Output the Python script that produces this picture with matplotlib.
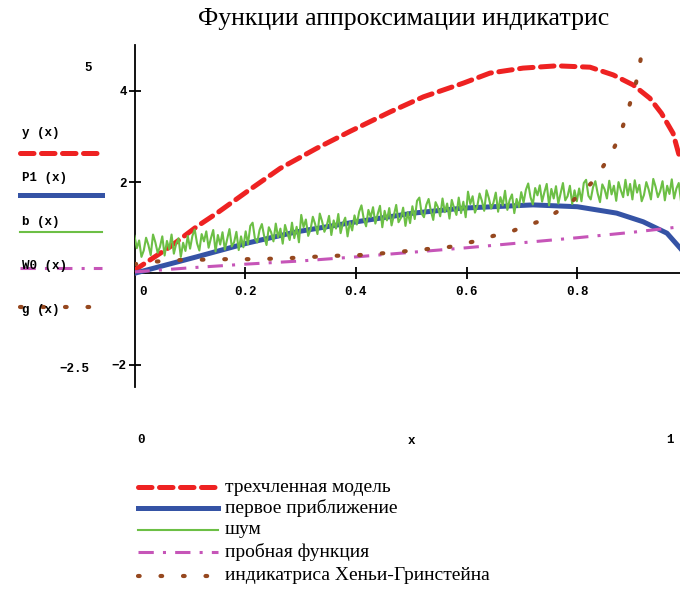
import numpy as np
import matplotlib
matplotlib.use('Agg')
import matplotlib.pyplot as plt
from matplotlib.lines import Line2D

# ---- data ----
x_y = [0.0, 0.004, 0.064, 0.112, 0.149, 0.203, 0.263, 0.329, 0.389, 0.462, 0.522,
       0.594, 0.642, 0.702, 0.763, 0.823, 0.865, 0.901, 0.931, 0.952, 0.973, 0.983, 1.0]
y_vals = [0.0, 0.1, 0.58, 1.02, 1.32, 1.79, 2.30, 2.74, 3.11, 3.54, 3.87,
          4.17, 4.39, 4.50, 4.55, 4.52, 4.35, 4.13, 3.84, 3.51, 3.07, 2.63, 2.0]

x_p1 = [0.0, 0.112, 0.203, 0.293, 0.401, 0.504, 0.594, 0.72, 0.8, 0.871, 0.919, 0.962, 0.986, 1.0]
p1_vals = [0.0, 0.36, 0.66, 0.91, 1.13, 1.32, 1.43, 1.50, 1.46, 1.32, 1.13, 0.88, 0.55, 0.35]

# noisy trace, 24 readings per 0.1 of x
b_vals = [
    0.82, 0.55, 0.72, 0.36, 0.50, 0.78, 0.62, 0.40, 0.85, 0.68, 0.45, 0.58,
    0.81, 0.39, 0.71, 0.53, 0.85, 0.43, 0.65, 0.77, 0.36, 0.67, 0.49, 0.82,
    0.54, 0.82, 0.96, 0.66, 0.50, 0.86, 0.70, 0.92, 0.56, 0.77, 0.95, 0.48,
    0.84, 0.63, 0.90, 0.52, 0.74, 0.97, 0.59, 0.68, 0.91, 0.51, 0.81, 0.57,
    0.92, 0.64, 1.04, 1.11, 0.76, 0.68, 0.95, 1.08, 0.81, 0.62, 1.01, 0.90,
    0.70, 1.09, 0.79, 0.98, 0.65, 1.06, 0.88, 0.73, 1.11, 0.77, 1.02, 0.68,
    1.28, 1.01, 1.18, 0.82, 0.96, 1.24, 1.08, 0.86, 1.31, 1.14, 0.91, 1.04,
    1.26, 0.84, 1.16, 0.98, 1.30, 0.88, 1.10, 1.22, 0.81, 1.12, 0.94, 1.27,
    1.07, 1.35, 1.49, 1.19, 1.03, 1.39, 1.23, 1.45, 1.09, 1.30, 1.48, 1.01,
    1.37, 1.16, 1.43, 1.05, 1.27, 1.50, 1.12, 1.21, 1.44, 1.04, 1.34, 1.10,
    1.47, 1.19, 1.59, 1.66, 1.31, 1.23, 1.50, 1.63, 1.36, 1.17, 1.56, 1.45,
    1.25, 1.64, 1.34, 1.53, 1.20, 1.61, 1.43, 1.28, 1.66, 1.32, 1.57, 1.23,
    1.79, 1.52, 1.69, 1.33, 1.47, 1.75, 1.59, 1.37, 1.82, 1.65, 1.42, 1.55,
    1.77, 1.35, 1.67, 1.49, 1.81, 1.39, 1.61, 1.73, 1.32, 1.63, 1.45, 1.78,
    1.55, 1.83, 1.97, 1.67, 1.51, 1.87, 1.71, 1.93, 1.57, 1.78, 1.96, 1.49,
    1.85, 1.64, 1.91, 1.53, 1.75, 1.98, 1.60, 1.69, 1.92, 1.52, 1.82, 1.58,
    1.86, 1.58, 1.98, 2.05, 1.70, 1.62, 1.89, 2.02, 1.75, 1.56, 1.95, 1.84,
    1.64, 2.03, 1.73, 1.92, 1.59, 2.00, 1.82, 1.67, 2.05, 1.71, 1.96, 1.62,
    2.04, 1.77, 1.94, 1.58, 1.72, 2.00, 1.84, 1.62, 2.07, 1.90, 1.67, 1.80,
    2.02, 1.60, 1.92, 1.74, 2.06, 1.64, 1.86, 1.98, 1.57, 1.88, 1.70, 2.03,
]
x_b = np.linspace(0, 1, len(b_vals))

x_w0 = [0.0, 0.1, 0.2, 0.3, 0.4, 0.5, 0.6, 0.7, 0.8, 0.9, 1.0]
w0_vals = [0.03, 0.12, 0.20, 0.27, 0.36, 0.46, 0.56, 0.67, 0.78, 0.90, 1.04]

x_g = [0.0, 0.028, 0.082, 0.167, 0.221, 0.275, 0.305, 0.353, 0.407, 0.45, 0.513, 0.543, 0.570,
       0.597, 0.624, 0.648, 0.671, 0.696, 0.722, 0.741, 0.761, 0.784, 0.803, 0.824, 0.838,
       0.856, 0.868, 0.880, 0.889, 0.898, 0.906, 0.912, 0.917, 0.93]
g_vals = [0.2, 0.25, 0.29, 0.31, 0.31, 0.33, 0.35, 0.38, 0.40, 0.44, 0.51, 0.55, 0.58,
          0.66, 0.72, 0.82, 0.87, 0.99, 1.10, 1.18, 1.33, 1.50, 1.72, 1.96, 2.18,
          2.52, 2.79, 3.14, 3.47, 3.84, 4.17, 4.53, 4.86, 5.6]

names = ['y (x)', 'P1 (x)', 'b (x)', 'W0 (x)', 'g (x)']
legend_ru = ['трехчленная модель', 'первое приближение', 'шум',
             'пробная функция', 'индикатриса Хеньи-Гринстейна']
title = 'Функции аппроксимации индикатрис'

# ---- styles ----
styles = [
    dict(color='#ee2222', lw=3.6, dashes=(2.7, 1.5), dash_capstyle='round'),
    dict(color='#3553a5', lw=3.6, linestyle='-'),
    dict(color='#6cbf45', lw=1.5, linestyle='-'),
    dict(color='#c655b8', lw=2.2, dashes=(5, 3, 1, 3)),
    dict(color='#96481f', lw=3.0, dashes=(0.4, 5), dash_capstyle='round'),
]

W, H = 680, 594
fig = plt.figure(figsize=(W / 100, H / 100), dpi=100)

def fx(px):
    return px / W

def fy(py):
    return 1 - py / H

ax_l, ax_r, ax_t, ax_b = 134.5, 688, 45.3, 387.3
ax = fig.add_axes([fx(ax_l), fy(ax_b), (ax_r - ax_l) / W, (ax_b - ax_t) / H])
ax.set_xlim(0, 1)
ax.set_ylim(-2.5, 5)
ax.set_facecolor('none')

series = [(x_y, y_vals), (x_p1, p1_vals), (x_b, b_vals), (x_w0, w0_vals), (x_g, g_vals)]
order = [2, 3, 1, 4, 0]
for i in order:
    xs, ys = series[i]
    ax.plot(xs, ys, zorder=3 + i, **styles[i])

for s in ['top', 'right']:
    ax.spines[s].set_visible(False)
ax.spines['bottom'].set_position(('data', 0))
ax.spines['left'].set_position(('data', 0))
for s in ['bottom', 'left']:
    ax.spines[s].set_linewidth(1.3)
    ax.spines[s].set_color('black')

mono = 'Liberation Mono'
serif = 'Liberation Serif'

ax.set_xticks([0.2, 0.4, 0.6, 0.8])
ax.set_xticklabels(['0.2', '0.4', '0.6', '0.8'], fontfamily=mono, fontsize=9, fontweight='bold')
ax.set_yticks([-2, 2, 4])
ax.set_yticklabels(['−2', '2', '4'], fontfamily=mono, fontsize=9, fontweight='bold')
ax.tick_params(axis='both', direction='inout', length=9, width=1.3, colors='black')
ax.tick_params(axis='x', pad=5)
ax.tick_params(axis='y', pad=1)

fig.text(fx(143), fy(292), '0', fontfamily=mono, fontsize=9, fontweight='bold', ha='center', va='center')

# range labels
fig.text(fx(88), fy(68), '5', fontfamily=mono, fontsize=9, fontweight='bold', ha='center', va='center')
fig.text(fx(74), fy(369), '−2.5', fontfamily=mono, fontsize=9, fontweight='bold', ha='center', va='center')
fig.text(fx(141), fy(440), '0', fontfamily=mono, fontsize=9, fontweight='bold', ha='center', va='center')
fig.text(fx(411), fy(441), 'x', fontfamily=mono, fontsize=9, fontweight='bold', ha='center', va='center')
fig.text(fx(670), fy(440), '1', fontfamily=mono, fontsize=9, fontweight='bold', ha='center', va='center')

# title
fig.text(fx(404), fy(19), title, fontfamily=serif, fontsize=18.5, ha='center', va='center')

# left trace labels
lab_y = [133, 178, 222, 266, 310]
line_y = [153, 195, 232, 268, 307]
for i in range(5):
    fig.text(fx(22), fy(lab_y[i]), names[i], fontfamily=mono, fontsize=9,
             fontweight='bold', ha='left', va='center', zorder=5)
    fig.add_artist(Line2D([fx(20), fx(102)], [fy(line_y[i])] * 2, **styles[i]))

# bottom legend
leg_y = [487, 508, 530, 552, 576]
for i in range(5):
    fig.add_artist(Line2D([fx(138), fx(218)], [fy(leg_y[i])] * 2, **styles[i]))
    fig.text(fx(225), fy(leg_y[i]), legend_ru[i], fontfamily=serif, fontsize=14,
             ha='left', va='center')

fig.savefig('out.png', dpi=100)
